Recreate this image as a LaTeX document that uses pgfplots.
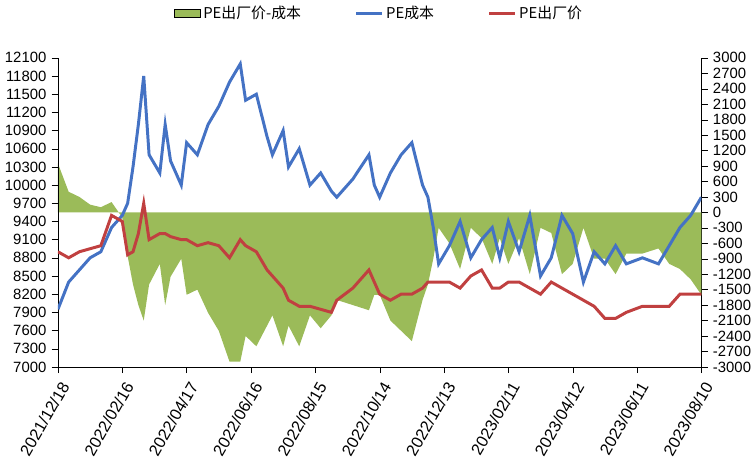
\documentclass[border=0pt]{standalone}
\usepackage{pgfplots}
\pgfplotsset{compat=1.18}
\usepackage{fontspec}
\setmainfont{Liberation Sans}
\newfontfamily\cjk{Noto Sans CJK SC}
\definecolor{gr}{RGB}{155,187,89}
\definecolor{bl}{RGB}{68,114,196}
\definecolor{rd}{RGB}{192,64,64}
\begin{document}
\fontsize{10}{12}\selectfont
\begin{tikzpicture}
\pgfplotsset{every axis/.append style={scale only axis,width=15.2cm,height=7.3cm,xmin=0,xmax=600,
 /pgf/number format/assume math mode=true,tick style={black},tick align=outside,scaled y ticks=false,
 ticklabel style={font=\fontsize{10}{12}\selectfont}}}
\begin{axis}[axis y line*=right,axis x line=none,ymin=-3000,ymax=3000,ytick={-3000,-2700,...,3000},
 y tick label style={/pgf/number format/1000 sep={}}]
\addplot[fill=gr,draw=none] coordinates {(0,0)
(0,950)(10,400)(20,300)(30,150)(40,100)(50,200)(60,-100)(65,-850)(70,-1400)(75,-1800)(80,-2100)(85,-1400)(95,-1000)(100,-1800)(105,-1250)(115,-900)(120,-1600)(130,-1500)(140,-1950)(150,-2300)(160,-2900)(170,-2900)(175,-2400)(185,-2600)(195,-2200)(200,-2000)(210,-2600)(215,-2200)(225,-2600)(235,-2000)(245,-2250)(255,-2000)(260,-1700)(275,-1800)(290,-1900)(295,-1600)(300,-1600)(310,-2100)(320,-2300)(330,-2500)(340,-1700)(345,-1400)(350,-900)(355,-300)(365,-600)(375,-1100)(385,-300)(395,-500)(405,-1000)(412,-500)(420,-1000)(430,-500)(440,-1200)(450,-300)(460,-400)(470,-1200)(480,-1000)(490,-300)(500,-900)(510,-900)(520,-1200)(530,-800)(545,-800)(560,-700)(570,-1000)(580,-1100)(590,-1300)(600,-1600)
(600,0)} -- cycle;
\end{axis}
\begin{axis}[axis y line*=left,axis x line*=bottom,ymin=7000,ymax=12100,ytick={7000,7300,...,12100},
 y tick label style={/pgf/number format/1000 sep={}},
 xtick={0,60,...,600},
 xticklabels={2021/12/18,2022/02/16,2022/04/17,2022/06/16,2022/08/15,2022/10/14,2022/12/13,2023/02/11,2023/04/12,2023/06/11,2023/08/10},
 x tick label style={rotate=60,anchor=north east,font=\fontsize{11}{13}\selectfont},
 legend style={at={(0.5,1.1)},anchor=south,draw=none,legend columns=3,font=\cjk\fontsize{10}{12}\selectfont,
 /tikz/every even column/.append style={column sep=1.2cm}},
 legend cell align=left]
\addlegendimage{area legend,fill=gr,draw=none}
\addlegendentry{PE出厂价-成本}
\addplot[bl,line width=2pt] coordinates {(0,7950)(10,8400)(20,8600)(30,8800)(40,8900)(50,9300)(60,9500)(65,9700)(70,10300)(75,11000)(80,11800)(85,10500)(95,10200)(100,11000)(105,10400)(115,10000)(120,10700)(130,10500)(140,11000)(150,11300)(160,11700)(170,12000)(175,11400)(185,11500)(195,10800)(200,10500)(210,10900)(215,10300)(225,10600)(235,10000)(245,10200)(255,9900)(260,9800)(275,10100)(290,10500)(295,10000)(300,9800)(310,10200)(320,10500)(330,10700)(340,10000)(345,9800)(350,9300)(355,8700)(365,9000)(375,9400)(385,8800)(395,9100)(405,9300)(412,8800)(420,9400)(430,8900)(440,9500)(450,8500)(460,8800)(470,9500)(480,9200)(490,8400)(500,8900)(510,8700)(520,9000)(530,8700)(545,8800)(560,8700)(570,9000)(580,9300)(590,9500)(600,9800)};
\addlegendentry{PE成本}
\addplot[rd,line width=2pt] coordinates {(0,8900)(10,8800)(20,8900)(30,8950)(40,9000)(50,9500)(60,9400)(65,8850)(70,8900)(75,9200)(80,9700)(85,9100)(95,9200)(100,9200)(105,9150)(115,9100)(120,9100)(130,9000)(140,9050)(150,9000)(160,8800)(170,9100)(175,9000)(185,8900)(195,8600)(200,8500)(210,8300)(215,8100)(225,8000)(235,8000)(245,7950)(255,7900)(260,8100)(275,8300)(290,8600)(295,8400)(300,8200)(310,8100)(320,8200)(330,8200)(340,8300)(345,8400)(350,8400)(355,8400)(365,8400)(375,8300)(385,8500)(395,8600)(405,8300)(412,8300)(420,8400)(430,8400)(440,8300)(450,8200)(460,8400)(470,8300)(480,8200)(490,8100)(500,8000)(510,7800)(520,7800)(530,7900)(545,8000)(560,8000)(570,8000)(580,8200)(590,8200)(600,8200)};
\addlegendentry{PE出厂价}
\end{axis}
\end{tikzpicture}
\end{document}
